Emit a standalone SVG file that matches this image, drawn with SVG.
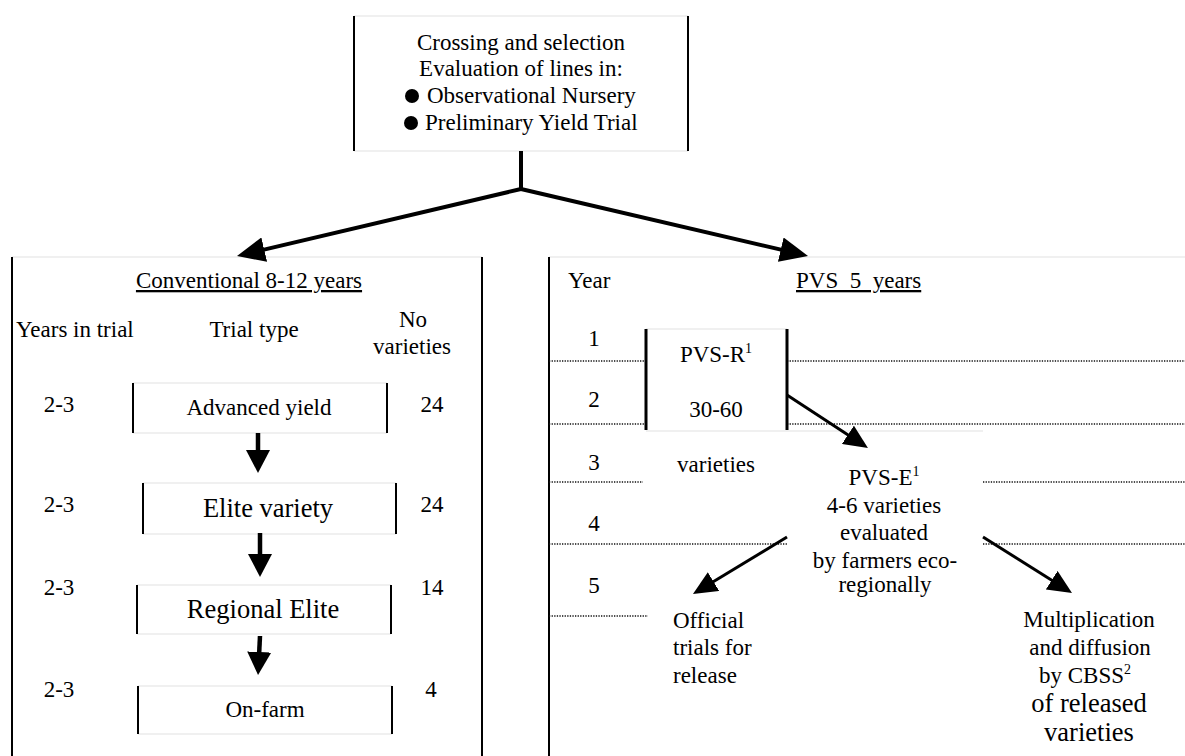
<svg xmlns="http://www.w3.org/2000/svg" width="1185" height="756" viewBox="0 0 1185 756">
<style>
text{font-family:"Liberation Serif","Times New Roman",serif;font-size:23px;fill:#000}
.big{font-size:26.5px}
.m{text-anchor:middle}
.sup{font-size:14px}
.faint{stroke:#e2e2e2;stroke-width:1.2;fill:none}
.vl{stroke:#000;stroke-width:2}
.vt{stroke:#000;stroke-width:3}
.dot{stroke:#111;stroke-width:1.3;stroke-dasharray:1.3 1.3;fill:none}
.conn{stroke:#000;fill:none}
</style>
<defs>
<marker id="ahBig" markerUnits="userSpaceOnUse" viewBox="0 0 28 25" markerWidth="28" markerHeight="25" refX="10" refY="12.5" orient="auto"><path d="M0,0 L28,12.5 L0,25 z" fill="#000"/></marker>
<marker id="ahMed" markerUnits="userSpaceOnUse" viewBox="0 0 23 24" markerWidth="23" markerHeight="24" refX="8" refY="12" orient="auto"><path d="M0,0 L23,12 L0,24 z" fill="#000"/></marker>
<marker id="ahSm" markerUnits="userSpaceOnUse" viewBox="0 0 24 22" markerWidth="24" markerHeight="22" refX="9" refY="11" orient="auto"><path d="M0,0 L24,11 L0,22 z" fill="#000"/></marker>
</defs>

<rect width="1185" height="756" fill="#fff"/>

<g id="top-box">
<path class="faint" d="M354,16 H688 M354,151 H688"/>
<path class="vl" d="M354,16 V151 M688,16 V151"/>
<text class="m" x="521" y="50">Crossing and selection</text>
<text class="m" x="521" y="76">Evaluation of lines in:</text>
<circle cx="412" cy="96" r="7" fill="#000"/>
<text x="427" y="103">Observational Nursery</text>
<circle cx="411" cy="123" r="7" fill="#000"/>
<text x="425" y="130">Preliminary Yield Trial</text>
</g>

<g id="conventional-panel">
<path class="faint" d="M12,257 H482"/>
<path class="vl" d="M12,257 V756 M482,257 V756"/>
<text class="m" x="249" y="288" text-decoration="underline">Conventional 8-12 years</text>
<text x="16" y="337">Years in trial</text>
<text class="m" x="254" y="337">Trial type</text>
<text class="m" x="413" y="327">No</text>
<text class="m" x="412" y="354">varieties</text>
</g>

<g id="row-advanced">
<path class="faint" d="M133,383 H387 M133,433 H387"/>
<path class="vl" d="M133,383 V433 M387,383 V433"/>
<text class="m" x="59" y="412">2-3</text>
<text class="m" x="259" y="415">Advanced yield</text>
<text class="m" x="432" y="412">24</text>
</g>

<g id="row-elite">
<path class="faint" d="M143,483 H396 M143,534 H396"/>
<path class="vl" d="M143,483 V534 M396,483 V534"/>
<text class="m" x="59" y="512">2-3</text>
<text class="m big" x="268" y="517">Elite variety</text>
<text class="m" x="432" y="512">24</text>
</g>

<g id="row-regional">
<path class="faint" d="M137,585 H391 M137,634 H391"/>
<path class="vl" d="M137,585 V634 M391,585 V634"/>
<text class="m" x="59" y="595">2-3</text>
<text class="m big" x="263" y="618">Regional Elite</text>
<text class="m" x="432" y="595">14</text>
</g>

<g id="row-onfarm">
<path class="faint" d="M138,686 H392 M138,734 H392"/>
<path class="vl" d="M138,686 V734 M392,686 V734"/>
<text class="m" x="59" y="697">2-3</text>
<text class="m" x="265" y="717">On-farm</text>
<text class="m" x="431" y="697">4</text>
</g>

<g id="pvs-panel">
<path class="faint" d="M549,257 H1185"/>
<path class="vl" d="M549,257 V756"/>
<text x="568" y="288">Year</text>
<text x="796" y="288" text-decoration="underline" xml:space="preserve">PVS  5  years</text>
<text class="m" x="594" y="346">1</text>
<text class="m" x="594" y="407">2</text>
<text class="m" x="594" y="470">3</text>
<text class="m" x="594" y="531">4</text>
<text class="m" x="594" y="593">5</text>
<path class="dot" d="M549,361 H646 M787,361 H1185 M549,424 H646 M787,424 H1185 M549,482 H643 M983,482 H1185 M549,544 H787 M983,544 H1185 M549,616 H648"/>
</g>

<g id="pvs-r">
<path class="faint" d="M646,329 H787 M646,431 H983"/>
<path class="vt" d="M646,329 V430 M787,329 V430"/>
<text class="m" x="716" y="362">PVS-R<tspan class="sup" dy="-9">1</tspan></text>
<text class="m" x="716" y="417">30-60</text>
<text class="m" x="716" y="472">varieties</text>
</g>

<g id="pvs-e">
<text class="m" x="884" y="485">PVS-E<tspan class="sup" dy="-9">1</tspan></text>
<text class="m" x="884" y="513">4-6 varieties</text>
<text class="m" x="884" y="540">evaluated</text>
<text class="m" x="885" y="568">by farmers eco-</text>
<text class="m" x="885" y="592">regionally</text>
</g>

<g id="official-trials">
<text x="673" y="628">Official</text>
<text x="673" y="655">trials for</text>
<text x="673" y="683">release</text>
</g>

<g id="multiplication">
<text class="m" x="1089" y="627">Multiplication</text>
<text class="m" x="1090" y="655">and diffusion</text>
<text class="m" x="1085" y="683">by CBSS<tspan class="sup" dy="-9">2</tspan></text>
<text class="m big" x="1089" y="712">of released</text>
<text class="m big" x="1089" y="741">varieties</text>
</g>

<g id="connectors">
<path class="conn" stroke-width="4" d="M521,151 V189"/>
<path class="conn" stroke-width="4" marker-end="url(#ahBig)" d="M521,189 L254.5,251.9"/>
<path class="conn" stroke-width="4" marker-end="url(#ahBig)" d="M521,189 L790.5,251.9"/>
<path class="conn" stroke-width="4.5" marker-end="url(#ahMed)" d="M258,433 L258,458"/>
<path class="conn" stroke-width="4.5" marker-end="url(#ahMed)" d="M260,533 L260,562"/>
<path class="conn" stroke-width="4.5" marker-end="url(#ahMed)" d="M260,636 L258.8,660"/>
<path class="conn" stroke-width="3" marker-end="url(#ahSm)" d="M787,395 L855.4,439.8"/>
<path class="conn" stroke-width="3" marker-end="url(#ahSm)" d="M787,537 L705.8,586.2"/>
<path class="conn" stroke-width="3" marker-end="url(#ahSm)" d="M983,537 L1059.3,585"/>
</g>
</svg>
